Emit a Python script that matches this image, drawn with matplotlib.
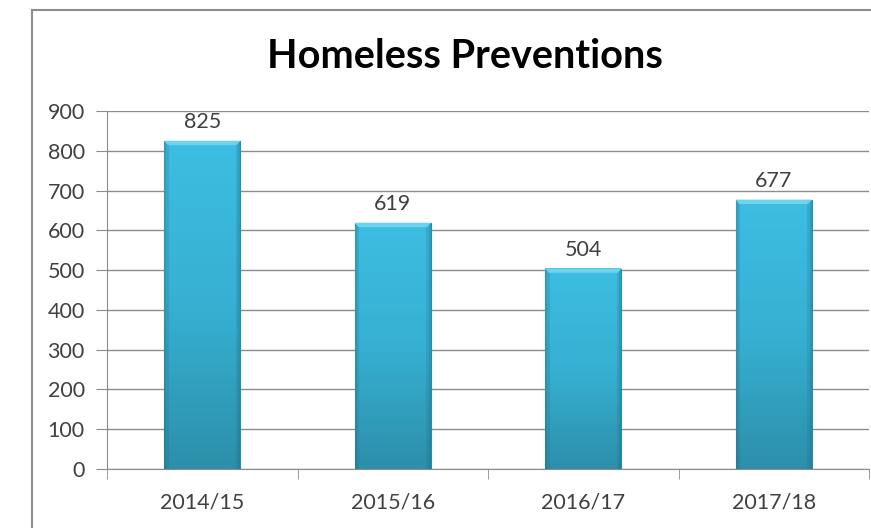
import matplotlib.pyplot as plt
import matplotlib.patches as mpatches
from matplotlib.lines import Line2D
import numpy as np
from matplotlib.colors import LinearSegmentedColormap

years = ["2014/15", "2015/16", "2016/17", "2017/18"]
preventions = [825, 619, 504, 677]
y_ticks = [0, 100, 200, 300, 400, 500, 600, 700, 800, 900]

plt.rcParams['font.family'] = ['Lato', 'DejaVu Sans']

fig = plt.figure(figsize=(8.71, 5.28), dpi=100)
fig.patch.set_facecolor("white")

# outer chart border, only the left and top edges are inside the picture
bx, by = 32 / 871, 1 - 10 / 528
fig.add_artist(Line2D([bx, bx], [0, by], transform=fig.transFigure,
                      color="#8c8c8c", linewidth=1.5))
fig.add_artist(Line2D([bx, 1], [by, by], transform=fig.transFigure,
                      color="#8c8c8c", linewidth=1.5))

ax = fig.add_axes([107 / 871, 1 - 469 / 528, 762 / 871, (469 - 111) / 528])
x = np.arange(len(years))
bars = ax.bar(x, preventions, width=0.4, color="#38b6da", edgecolor="#2a8ba6",
              linewidth=0.8, zorder=3)

# shaded fill for each bar: stacked bands darker towards the bottom
cmap = LinearSegmentedColormap.from_list("bar", ["#2c90ab", "#36afd2", "#3cbde1"])
n = 40
for b in bars:
    x0, w, h = b.get_x(), b.get_width(), b.get_height()
    for i in range(n):
        ax.add_patch(mpatches.Rectangle((x0, h * i / n), w, h / n + 0.5,
                                        facecolor=cmap(i / (n - 1)),
                                        edgecolor="none", zorder=3.5))
    # darker sides
    for off, a in [(0.0, 0.35), (0.012, 0.18)]:
        ax.add_patch(mpatches.Rectangle((x0 + off, 0), 0.012, h, facecolor="#1d6478",
                                        alpha=a, edgecolor="none", zorder=3.6))
        ax.add_patch(mpatches.Rectangle((x0 + w - off - 0.012, 0), 0.012, h,
                                        facecolor="#1d6478", alpha=a,
                                        edgecolor="none", zorder=3.6))
    # bevel on top
    bev = 0.012 * 900
    ax.add_patch(mpatches.Polygon([[x0, h], [x0 + w, h], [x0 + w - 0.02, h - bev],
                                   [x0 + 0.02, h - bev]], closed=True,
                                  facecolor="#6fd3ee", edgecolor="none", zorder=4))
    ax.text(x0 + w / 2, h + 22, str(h), ha="center", va="bottom",
            fontsize=15.5, color="#404040")

ax.set_xlim(-0.5, len(years) - 0.5)
ax.set_ylim(0, 900)
ax.set_yticks(y_ticks)
ax.set_xticks(x)
ax.set_xticklabels(years)
ax.set_xticks(np.arange(len(years) + 1) - 0.5, minor=True)
ax.tick_params(axis="x", which="major", length=0, pad=17, labelsize=15.5,
               labelcolor="#404040")
ax.tick_params(axis="x", which="minor", length=7, color="#8c8c8c")
ax.tick_params(axis="y", length=8, color="#8c8c8c", labelsize=15.5,
               labelcolor="#404040", pad=8)
ax.yaxis.grid(True, color="#8c8c8c", linewidth=1, zorder=0)
ax.set_axisbelow(True)
for s in ["top", "right"]:
    ax.spines[s].set_visible(False)
for s in ["left", "bottom"]:
    ax.spines[s].set_color("#8c8c8c")

fig.text(465 / 871, 1 - 56 / 528, "Homeless Preventions", ha="center",
         va="center", fontsize=28.5, fontweight="bold", color="black")

fig.savefig("out.png", dpi=100)
